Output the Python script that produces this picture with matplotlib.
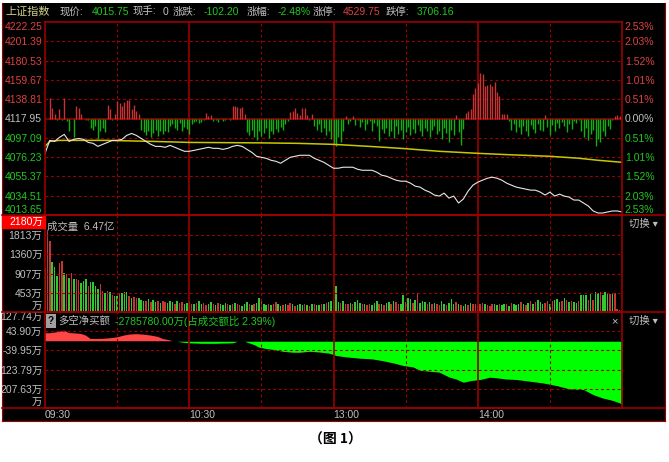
import numpy as np
import matplotlib
matplotlib.use('Agg')
import matplotlib.pyplot as plt
from matplotlib.lines import Line2D
from matplotlib.patches import Rectangle

plt.rcParams['font.family'] = ['Liberation Sans', 'Noto Sans CJK SC', 'DejaVu Sans']

W, H = 669, 462

# ---- data ----
prev_close = 4117.95
price_ticks = [4013.65, 4034.51, 4055.37, 4076.23, 4097.09, 4117.95,
               4138.81, 4159.67, 4180.53, 4201.39, 4222.25]
pct_labels = ['2.53%', '2.03%', '1.52%', '1.01%', '0.51%', '0.00%',
              '0.51%', '1.01%', '1.52%', '2.03%', '2.53%']

# price every 2 minutes (09:30 .. 15:00, 240 trading minutes)
price_t = list(range(0, 241, 2))
price = [4080.3, 4094.3, 4093.2, 4097.5, 4100.8, 4093.2, 4095.4, 4096.4, 4095.4, 4092.1,
         4091.1, 4087.8, 4090.0, 4092.1, 4094.3, 4094.3, 4095.4, 4099.7, 4101.8, 4099.7,
         4096.4, 4093.2, 4090.0, 4087.8, 4087.8, 4086.8, 4088.9, 4086.8, 4084.6, 4082.5,
         4082.5, 4083.5, 4084.6, 4085.7, 4086.8, 4085.7, 4085.7, 4084.6, 4085.7, 4087.8,
         4088.9, 4087.8, 4084.6, 4081.4, 4077.1, 4076.0, 4074.9, 4072.8, 4071.7, 4069.6,
         4072.8, 4076.0, 4077.1, 4078.2, 4078.2, 4078.2, 4074.9, 4072.8, 4070.6, 4067.4,
         4064.2, 4064.2, 4065.3, 4065.3, 4065.3, 4063.1, 4062.0, 4062.0, 4062.0, 4059.9,
         4056.7, 4055.6, 4053.4, 4051.3, 4050.2, 4050.2, 4048.1, 4044.8, 4043.8, 4040.5,
         4038.4, 4035.2, 4034.1, 4037.3, 4031.9, 4034.1, 4026.6, 4030.9, 4039.5, 4045.9,
         4049.1, 4051.3, 4053.4, 4054.5, 4053.4, 4051.3, 4048.1, 4045.9, 4043.8, 4042.7,
         4041.6, 4040.5, 4040.5, 4038.4, 4035.2, 4038.4, 4034.1, 4036.2, 4034.1, 4033.0,
         4029.8, 4029.8, 4026.6, 4023.3, 4018.0, 4015.8, 4015.8, 4016.9, 4018.0, 4018.0,
         4017.0]

avg_t = [0, 2, 6, 25, 45, 60, 90, 105, 120, 135, 148, 164, 180, 194, 210, 222, 230, 240]
avg = [4087.8, 4093.2, 4094.3, 4094.3, 4093.2, 4092.1, 4091.6, 4091.1, 4090.0, 4087.8,
       4085.7, 4082.5, 4080.3, 4078.7, 4077.1, 4075.0, 4072.8, 4070.6]

minutes = list(range(241))
# buy/sell power bars around the previous close (index points)
power = [0, -1, 22, 11, 5, -2, 10, -2, 22, -3,
         -14, -1, -20, 13, 11, 5, -1, -2, -2, -10,
         -12, -8, -22, -14, -10, -15, 15, 10, -2, 5,
         19, 17, 13, 18, 20, 20, 10, 15, 8, 5,
         -12, -15, -18, -13, -20, -16, -12, -19, -14, -17,
         -13, -15, -8, -6, -10, -12, -5, -14, -9, -11,
         -17, -6, -4, -3, -5, -4, -2, 6, 3, 4,
         -3, -2, -4, -1, -3, -2, -1, -2, 14, 14,
         12, 11, 12, 5, -15, -18, -12, -20, -23, -14,
         -19, -16, -10, -21, -13, -17, -11, -15, -9, -12,
         -6, -3, 7, 8, 11, 6, 4, 11, 11, 4,
         -2, 5, -8, -12, -6, -15, -10, -18, -13, -22,
         -27, -30, -20, -25, -14, 3, -6, -3, 3, -7,
         -2, -9, -4, -12, -6, -3, -14, -5, -8, -24,
         -11, -16, -10, -19, -13, -21, -8, -17, -12, -22,
         -15, -9, -18, -11, -16, -7, -14, -19, -10, -13,
         -20, -12, -8, -17, -14, -22, -10, -16, -25, -12,
         -18, 4, -15, -29, -11, 6, 8, 10, 26, 33,
         38, 49, 48, 35, 36, 37, 35, 39, 29, 24,
         5, 5, 5, -3, -12, -6, -15, -9, -17, -8,
         -13, -19, -7, -11, -16, -6, -12, -14, 4, -9,
         -18, -7, -13, -5, -10, -4, -8, -15, -6, -11,
         -3, -5, -2, -14, -20, -10, -23, -17, -12, -30,
         -22, -25, -14, -19, -8, -11, -2, 3, 4, 3,
         0]

# volume per minute (万)
volume = [1040, 1910, 1680, 1180, 1060, 850, 1155, 1210, 925, 890,
          805, 925, 775, 775, 755, 685, 735, 775, 615, 710,
          710, 615, 545, 660, 495, 450, 495, 470, 400, 380,
          380, 420, 450, 470, 470, 380, 330, 355, 330, 330,
          290, 270, 250, 300, 240, 280, 230, 260, 220, 250,
          240, 210, 270, 230, 200, 250, 220, 240, 190, 210,
          230, 200, 180, 220, 250, 190, 210, 170, 200, 230,
          180, 160, 210, 190, 170, 220, 200, 160, 180, 210,
          190, 170, 150, 200, 230, 180, 160, 190, 210, 340,
          250, 200, 170, 190, 160, 180, 230, 200, 150, 170,
          190, 160, 210, 180, 150, 170, 200, 160, 190, 170,
          150, 180, 200, 160, 170, 190, 180, 210, 230, 260,
          280, 620, 240, 210, 250, 200, 180, 220, 190, 230,
          290, 210, 180, 200, 160, 190, 170, 220, 270, 180,
          200, 170, 210, 230, 180, 260, 240, 200, 190, 390,
          230, 330, 300, 220, 280, 450, 210, 250, 230, 200,
          240, 180, 220, 200, 170, 250, 190, 160, 210, 300,
          180, 230, 200, 170, 150, 190, 160, 210, 180, 200,
          170, 190, 210, 180, 160, 150, 200, 180, 170, 190,
          160, 200, 180, 150, 210, 190, 160, 200, 240, 180,
          170, 220, 250, 200, 230, 280, 240, 180, 220, 260,
          200, 250, 290, 300, 230, 260, 340, 280, 230, 250,
          240, 220, 270, 400, 410, 400, 280, 450, 280, 470,
          460, 470, 400, 470, 440, 430, 460, 440, 60, 40,
          20]
vol_dir = ("grrgggrrgr" "grgrrgggrg" "gggrrgrgrg" "grgggrgrrg"
           "ggrgrggrgr" "rgggrgrrgg" "grgrggrrgg" "rgrgggrgrg"
           "rrgggrgrgg" "rggrgrrggr" "grrgrgggrg" "rgrggrgrgg"
           "gggrgrrgrg" "ggrgrrgggr" "grggrgrrgg" "rggrgrgggr"
           "grgrrggrgg" "grgrggrgrr" "grrgrrrggr" "ggrgrgggrg"
           "rgrgrgggrr" "grgggrgrgr" "ggrgggrgrg" "grgggrgrrr" "r")
vol_ticks = [0, 453, 907, 1360, 1813]
vol_labels = ['万', '453万', '907万', '1360万', '1813万']

# net buying amount (万)
net_t = [0, 2, 6, 8, 9, 10, 13, 15, 17, 19, 23, 27, 30, 33, 35, 38, 41, 44, 47, 49,
         52, 53, 55, 57, 60, 65, 71, 78, 80, 83, 84, 87, 89, 92, 95, 99, 103, 106, 110,
         114, 118, 120, 121, 125, 131, 136, 140, 145, 149, 153, 156, 160, 164, 168,
         171, 174, 177, 181, 185, 188, 192, 196, 202, 207, 213, 218, 224, 228, 232,
         236, 239, 240]
net_v = [35, 35, 41, 47, 41, 36, 34, 32, 25, 10, 10, 13, 17, 25, 29, 31, 29, 25, 19, 10,
         4, 0, 0, -4, -7, -9, -9, -7, 0, 0, -4, -15, -26, -32, -36, -44, -48, -48, -44,
         -47, -52, -58, -62, -68, -74, -77, -84, -95, -106, -112, -127, -131, -135, -156,
         -165, -179, -172, -167, -157, -160, -165, -167, -175, -182, -194, -208, -211, -233, -248,
         -258, -269, -277]
net_ticks = [-291.47, -207.63, -123.79, -39.95, 43.90, 127.74]
net_labels = ['万', '207.63万', '123.79万', '-39.95万', '43.90万', '127.74万']

time_ticks = [0, 60, 120, 180]
time_labels = ['09:30', '10:30', '13:00', '14:00']

# ---- style ----
RED_LINE = '#9a0000'
GRID = '#a00000'
TXT = '#c0c0c0'
TRED = '#e04040'
TGREEN = '#20c820'
FS = 7.5


def rect(x0, y0, x1, y1):
    return [x0 / W, 1 - y1 / H, (x1 - x0) / W, (y1 - y0) / H]


def fline(x0, y0, x1, y1):
    fig.add_artist(Line2D([x0 / W, x1 / W], [1 - y0 / H, 1 - y1 / H], color=RED_LINE, lw=1.2))


def ftext(x, y, s, color=TXT, **kw):
    kw.setdefault('fontsize', FS)
    kw.setdefault('va', 'center')
    fig.text(x / W, 1 - y / H, s, color=color, **kw)


fig = plt.figure(figsize=(W / 100, H / 100), dpi=100, facecolor='white')

bg = fig.add_axes(rect(2, 3, 665, 421))
bg.set_facecolor('black')
bg.set_xticks([])
bg.set_yticks([])
for s in bg.spines.values():
    s.set_color(RED_LINE)
bg.spines['top'].set_visible(False)


def panel(box):
    ax = fig.add_axes(rect(*box))
    ax.set_facecolor('none')
    ax.set_xlim(0, 240)
    for s in ax.spines.values():
        s.set_color(RED_LINE)
        s.set_linewidth(1.2)
    ax.tick_params(length=0, labelsize=FS, pad=2)
    ax.set_xticks([])
    for m in [30, 90, 150, 210]:
        ax.axvline(m, color=GRID, lw=0.8, ls=(0, (2.5, 2.5)))
    for m in [60, 120, 180]:
        ax.axvline(m, color=RED_LINE, lw=1.2)
    return ax


# price panel
ax_p = panel((45, 22, 622, 215))
ax_p.set_ylim(price_ticks[0], price_ticks[-1])
for v in price_ticks[1:-1]:
    if v == prev_close:
        ax_p.axhline(v, color=RED_LINE, lw=1.2)
    else:
        ax_p.axhline(v, color=GRID, lw=0.8, ls=(0, (2.5, 2.5)))

pcol = [TGREEN if v < prev_close else (TRED if v > prev_close else TXT) for v in price_ticks]
ax_p.set_yticks(price_ticks)
ax_p.set_yticklabels(['%.2f' % v for v in price_ticks])
for lab, c in zip(ax_p.get_yticklabels(), pcol):
    lab.set_color(c)
ax_p.get_yticklabels()[0].set_va('bottom')
ax_p.get_yticklabels()[-1].set_va('top')

ax_r = ax_p.twinx()
ax_r.set_ylim(price_ticks[0], price_ticks[-1])
ax_r.set_yticks(price_ticks)
ax_r.set_yticklabels(pct_labels)
ax_r.tick_params(length=0, labelsize=FS, pad=2)
for s in ax_r.spines.values():
    s.set_visible(False)
for lab, c in zip(ax_r.get_yticklabels(), pcol):
    lab.set_color(c)
ax_r.get_yticklabels()[0].set_va('bottom')
ax_r.get_yticklabels()[-1].set_va('top')

pw = np.array(power)
ax_p.vlines(minutes, prev_close, prev_close + pw,
            colors=['#c83232' if v > 0 else '#10b010' for v in pw], lw=1.0)
ax_p.plot(avg_t, avg, color='#c8c800', lw=1.1)
ax_p.plot(price_t, price, color='#e6e6e6', lw=0.8)

# volume panel
ax_v = panel((45, 215, 622, 312))
ax_v.set_ylim(0, 2290)
for v in vol_ticks[1:]:
    ax_v.axhline(v, color=GRID, lw=0.8, ls=(0, (2.5, 2.5)))
ax_v.bar(minutes, volume, width=0.62,
         color=['#c83232' if d == 'r' else '#32c832' for d in vol_dir])
ax_v.set_yticks(vol_ticks)
ax_v.set_yticklabels(vol_labels)
for lab in ax_v.get_yticklabels():
    lab.set_color(TXT)
ax_v.get_yticklabels()[0].set_va('bottom')

# net buy panel
ax_n = panel((45, 312, 622, 408))
ax_n.set_ylim(net_ticks[0], net_ticks[-1])
for v in net_ticks[1:-1]:
    ax_n.axhline(v, color=GRID, lw=0.8, ls=(0, (2.5, 2.5)))
nv = np.array(net_v)
ax_n.fill_between(net_t, nv, 0, where=nv >= 0, interpolate=True, color='#ff4646', lw=0)
ax_n.fill_between(net_t, nv, 0, where=nv <= 0, interpolate=True, color='#00ff00', lw=0)
ax_n.set_yticks(net_ticks)
ax_n.set_yticklabels(net_labels)
for lab in ax_n.get_yticklabels():
    lab.set_color(TXT)
ax_n.get_yticklabels()[0].set_va('bottom')
ax_n.get_yticklabels()[-1].set_va('top')
ax_n.set_xticks(time_ticks)
ax_n.set_xticklabels(time_labels)
ax_n.tick_params(axis='x', pad=1.5, labelcolor=TXT)
for lab in ax_n.get_xticklabels():
    lab.set_ha('left')

# separators across the full width
fline(2, 215, 665, 215)
fline(2, 312, 665, 312)
fline(2, 408, 665, 408)

# volume max box
fig.add_artist(Rectangle((2 / W, 1 - 228 / H), 43 / W, 12 / H, color='#ff0000',
                         transform=fig.transFigure))
ftext(43, 222, '2180万', color='white', ha='right')

# header
ftext(5, 12, '上证指数', color='#d2d28c', fontsize=8)
header = [(60, '现价:', TXT), (92, '4015.75', TGREEN), (133, '现手:', TXT), (163, '0', TXT),
          (173, '涨跌:', TXT), (204, '-102.20', TGREEN), (247, '涨幅:', TXT),
          (278, '-2.48%', TGREEN), (313, '涨停:', TXT), (343, '4529.75', TRED),
          (386, '跌停:', TXT), (417, '3706.16', TGREEN)]
for x, s, c in header:
    ftext(x, 12, s, color=c)

ftext(47, 227, '成交量  6.47亿')
ftext(48, 321, '?', color='black', fontsize=7, fontweight='bold',
      bbox=dict(boxstyle='square,pad=0.2', fc='#a0a0a0', ec='none'))
ftext(58, 321, '多空净买额')
ftext(115, 321, '-2785780.00万(占成交额比 2.39%)', color=TGREEN)
ftext(611, 321, '×', fontsize=8)
ftext(629, 224, '切换 ▾')
ftext(629, 321, '切换 ▾')

ftext(335, 440, '（图 1）', color='black', fontsize=10, ha='center',
      fontweight='bold', family=['Noto Sans CJK SC', 'DejaVu Sans'])

fig.savefig('out.png', dpi=100, facecolor='white')
